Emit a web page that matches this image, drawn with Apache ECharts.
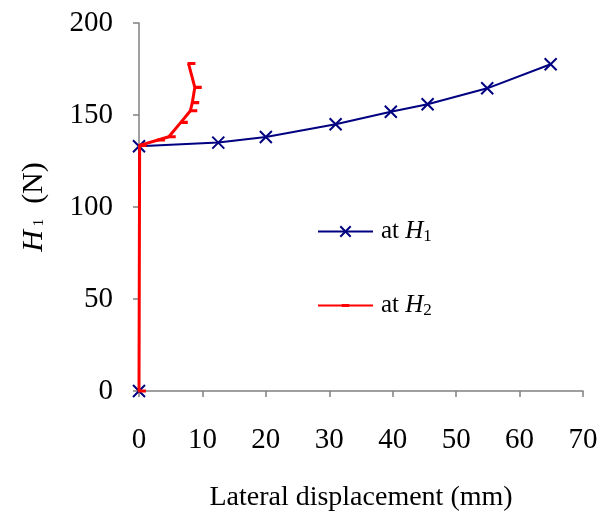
<!DOCTYPE html>
<html>
<head>
<meta charset="utf-8">
<script src="https://cdn.jsdelivr.net/npm/echarts@6/dist/echarts.min.js"></script>
<style>
  html, body { margin: 0; padding: 0; background: #fff; }
  #chart { width: 604px; height: 522px; }
</style>
</head>
<body>
<div id="chart"></div>
<script>
// values: [displacement mm, H1 N]
const atH1 = [[0, 0], [0, 133], [12.5, 135], [20, 138], [31, 145], [39.7, 151.8], [45.5, 155.8], [54.9, 164.5], [64.9, 177.6]];
const atH2 = [[0, 0], [0.1, 133.5], [3, 136.4], [4.7, 138.2], [6.6, 146], [8.1, 152.3], [8.4, 156.7], [8.8, 165], [7.8, 178]];
const xTicks = { min: 0, max: 70, interval: 10 };
const yTicks = { min: 0, max: 200, interval: 50 };

const serif = '"Liberation Serif", "Times New Roman", serif';
const crossPath = 'path://M0,0L10,10M10,0L0,10';
// flat dash inside a square box (tiny empty corners keep the box square)
const dashPath = 'path://M0,0L0.01,0L0,0.01Z M2,5L12,5L12,9L2,9Z M14,14L13.99,14L14,13.99Z';

const legendText = {
    fontFamily: serif,
    fontSize: 25,
    color: '#000',
    padding: [0, 0, 0, 3],
    rich: {
        i: { fontFamily: serif, fontSize: 25, fontStyle: 'italic', color: '#000' },
        s: { fontFamily: serif, fontSize: 17, color: '#000', verticalAlign: 'bottom', padding: [10, 0, 0, 0] }
    }
};

const chart = echarts.init(document.getElementById('chart'));
const option = {
    animation: false,
    backgroundColor: '#fff',
    grid: { left: 139, right: 21, top: 23, bottom: 131 },
    legend: {
        orient: 'vertical',
        left: 312,
        top: 214,
        itemWidth: 55,
        itemHeight: 13,
        itemGap: 48,
        data: ['H1', 'H2'],
        formatter: function(name) {
            return name === 'H1' ? 'at {i|H}{s|1}' : 'at {i|H}{s|2}';
        },
        textStyle: legendText
    },
    xAxis: {
        type: 'value',
        z: 0,
        min: xTicks.min,
        max: xTicks.max,
        interval: xTicks.interval,
        name: 'Lateral displacement (mm)',
        nameLocation: 'middle',
        nameGap: 93,
        nameTextStyle: { fontFamily: serif, fontSize: 28, color: '#000' },
        axisLine: { show: true, onZero: false, lineStyle: { color: '#808080', width: 1.5 } },
        axisTick: { show: true, length: 6, lineStyle: { color: '#808080', width: 1.5 } },
        axisLabel: { fontFamily: serif, fontSize: 29, color: '#000', margin: 35 },
        splitLine: { show: false }
    },
    yAxis: {
        type: 'value',
        z: 0,
        min: yTicks.min,
        max: yTicks.max,
        interval: yTicks.interval,
        name: '{i|H}{s| 1}  (N)',
        nameLocation: 'middle',
        nameGap: 90,
        nameTextStyle: {
            fontFamily: serif,
            fontSize: 30,
            color: '#000',
            rich: {
                i: { fontFamily: serif, fontSize: 30, fontStyle: 'italic', color: '#000' },
                s: { fontFamily: serif, fontSize: 15, color: '#000', verticalAlign: 'bottom', padding: [0, 0, 2, 0] }
            }
        },
        axisLine: { show: true, onZero: false, lineStyle: { color: '#808080', width: 1.5 } },
        axisTick: { show: true, length: 6, lineStyle: { color: '#808080', width: 1.5 } },
        axisLabel: { fontFamily: serif, fontSize: 29, color: '#000', margin: 26 },
        splitLine: { show: false }
    },
    series: [
        {
            name: 'H1',
            type: 'line',
            data: atH1,
            z: 5,
            clip: false,
            symbol: crossPath,
            symbolSize: 12,
            showAllSymbol: true,
            lineStyle: { color: '#000080', width: 2 },
            itemStyle: { color: '#000080', borderColor: '#000080', borderWidth: 2 }
        },
        {
            name: 'H2',
            type: 'line',
            data: atH2,
            z: 6,
            clip: false,
            symbol: dashPath,
            symbolSize: 11,
            symbolOffset: [3, 0],
            showAllSymbol: true,
            lineStyle: { color: '#ff0000', width: 3 },
            itemStyle: { color: '#ff0000', borderWidth: 0 }
        }
    ]
};
chart.setOption(option);
</script>
</body>
</html>
